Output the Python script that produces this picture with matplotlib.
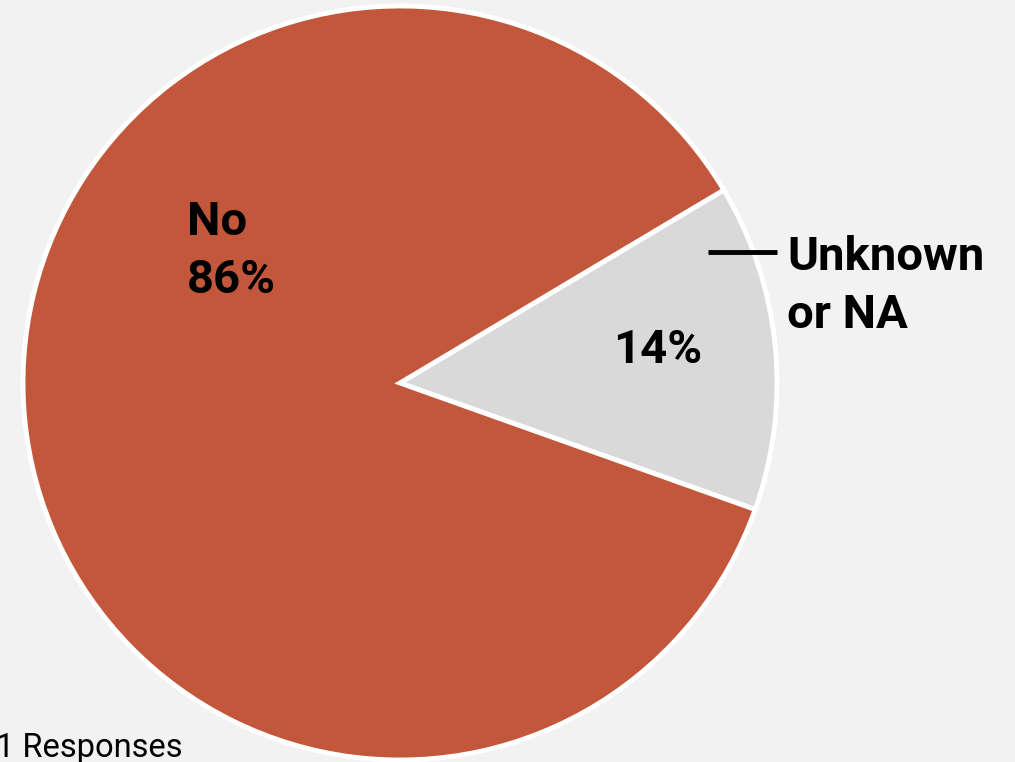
import matplotlib
matplotlib.use("Agg")
from matplotlib import pyplot as plt

labels = ["Unknown or NA", "No"]
shares = [14, 86]
colors = ["#d9d9d9", "#c3573c"]
footnote = "1 Responses"

plt.rcParams["font.family"] = ["Roboto", "DejaVu Sans"]

fig = plt.figure(figsize=(10.15, 7.62), dpi=100)
fig.patch.set_facecolor("#f2f2f2")
ax = fig.add_axes([0, 0, 1, 1])
ax.set_facecolor("#f2f2f2")

ax.pie(shares, colors=colors, startangle=-19.6, counterclock=True,
       center=(400, 379), radius=377, frame=True,
       wedgeprops=dict(edgecolor="white", linewidth=3.5))

ax.set_xlim(0, 1015)
ax.set_ylim(0, 762)
ax.set_aspect("equal")
ax.axis("off")

# labels (image y -> data y = 762 - y)
ax.text(187, 762 - 235, "No", fontsize=34, fontweight="bold", va="baseline")
ax.text(187, 762 - 293, f"{shares[1]}%", fontsize=34, fontweight="bold", va="baseline")
ax.text(613, 762 - 363, f"{shares[0]}%", fontsize=34, fontweight="bold", va="baseline")
ax.text(787, 762 - 270, "Unknown", fontsize=34, fontweight="bold", va="baseline")
ax.text(787, 762 - 328, "or NA", fontsize=34, fontweight="bold", va="baseline")
ax.plot([708, 777], [762 - 252, 762 - 252], color="black", linewidth=3.5, solid_capstyle="butt")

ax.text(-4, 762 - 757, footnote, fontsize=23.5, va="baseline", clip_on=False)

plt.savefig("out.png", dpi=100, facecolor=fig.get_facecolor())
plt.close()
